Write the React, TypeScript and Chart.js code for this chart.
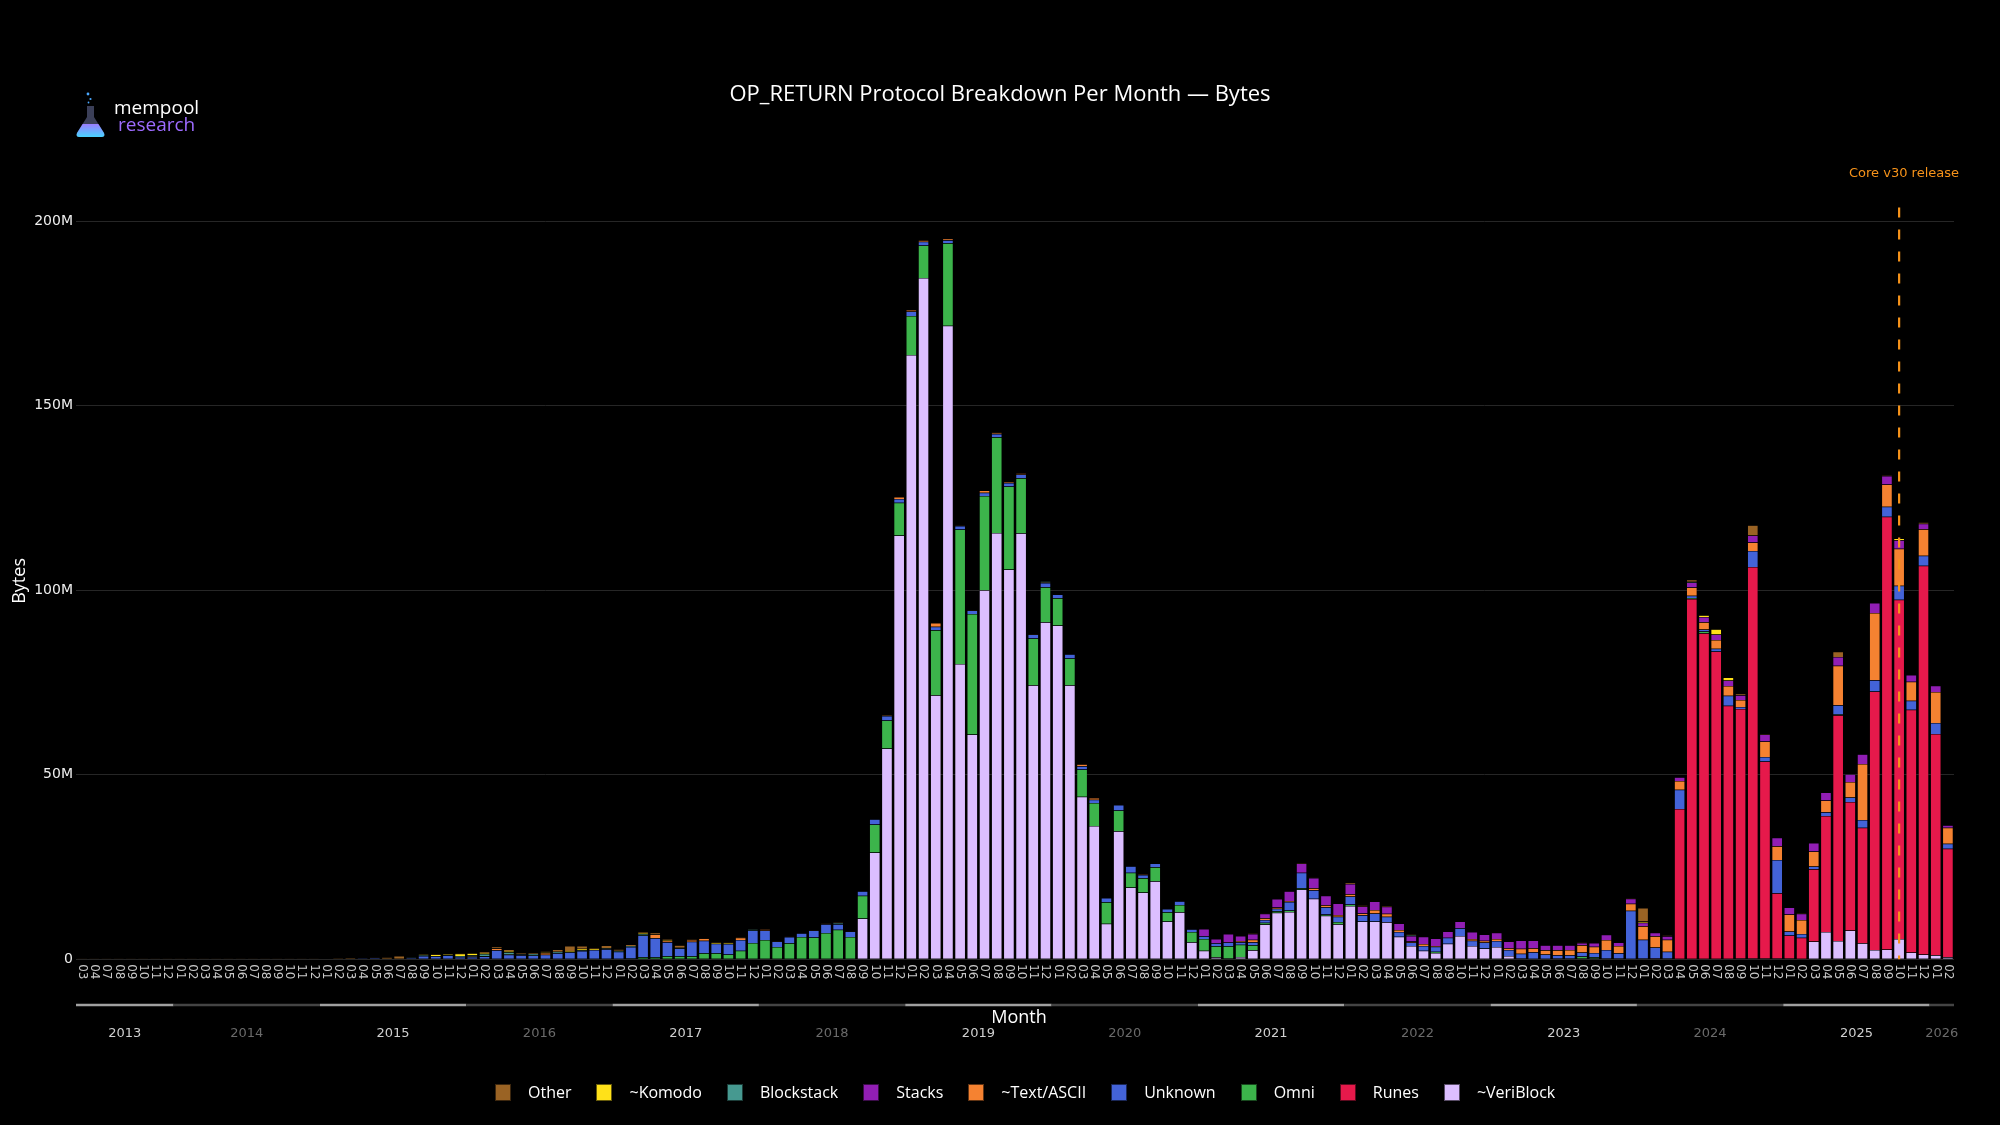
import React, { useEffect, useRef } from 'react';
import { Chart, registerables } from 'chart.js';

Chart.register(...registerables);

// ---------- categories ----------
const M12 = ['01', '02', '03', '04', '05', '06', '07', '08', '09', '10', '11', '12'];
const YEAR_MONTHS: [string, string[]][] = [
  ['2013', ['03', '04', '07', '08', '09', '10', '11', '12']],
  ['2014', M12], ['2015', M12], ['2016', M12], ['2017', M12], ['2018', M12], ['2019', M12],
  ['2020', M12], ['2021', M12], ['2022', M12], ['2023', M12], ['2024', M12], ['2025', M12],
  ['2026', ['01', '02']],
];
const CATEGORIES: string[] = YEAR_MONTHS.flatMap(([y, ms]) => ms.map((m) => `${y}-${m}`));
const RELEASE_MONTH = '2025-10';
const RELEASE_LABEL = 'Core v30 release';

// ---------- series values (millions of bytes) ----------
const veriblock = [
  0, 0, 0, 0, 0, 0, 0, 0, 0, 0,
  0, 0, 0, 0, 0, 0, 0, 0, 0, 0,
  0, 0, 0, 0, 0, 0, 0, 0, 0, 0,
  0, 0, 0, 0, 0, 0, 0, 0, 0, 0,
  0, 0, 0, 0, 0, 0, 0, 0, 0, 0,
  0, 0, 0, 0, 0, 0, 0, 0, 0, 0,
  0, 0, 0, 0, 11.0, 28.9, 57.1, 114.8, 163.7, 184.6,
  71.5, 171.6, 80.0, 60.9, 100.0, 115.5, 105.6, 115.4, 74.2, 91.3,
  90.4, 74.2, 44.0, 36.1, 9.6, 34.7, 19.4, 18.1, 21.1, 10.2,
  12.7, 4.6, 2.3, 0.5, 0.2, 0.6, 2.4, 9.4, 12.6, 12.8,
  18.9, 16.4, 11.8, 9.5, 14.4, 10.2, 10.2, 10.0, 6.1, 3.6,
  2.3, 1.7, 4.2, 6.3, 3.6, 2.9, 3.3, 0.9, 0.2, 0.1,
  0.1, 0.2, 0.2, 0.2, 0.2, 0.2, 0.2, 0, 0.2, 0,
  0.2, 0, 0, 0, 0, 0, 0.2, 0.2, 0.2, 0.2,
  0.2, 0.1, 4.8, 7.4, 4.9, 7.8, 4.3, 2.5, 2.6, 5.5,
  1.8, 1.3, 1.1, 0.5,
];
const runes = [
  0, 0, 0, 0, 0, 0, 0, 0, 0, 0,
  0, 0, 0, 0, 0, 0, 0, 0, 0, 0,
  0, 0, 0, 0, 0, 0, 0, 0, 0, 0,
  0, 0, 0, 0, 0, 0, 0, 0, 0, 0,
  0, 0, 0, 0, 0, 0, 0, 0, 0, 0,
  0, 0, 0, 0, 0, 0, 0, 0, 0, 0,
  0, 0, 0, 0, 0, 0, 0, 0, 0, 0,
  0, 0, 0, 0, 0, 0, 0, 0, 0, 0,
  0, 0, 0, 0, 0, 0, 0, 0, 0, 0,
  0, 0, 0, 0, 0, 0, 0, 0, 0, 0,
  0, 0, 0, 0, 0, 0, 0, 0, 0, 0,
  0, 0, 0, 0, 0, 0, 0, 0, 0, 0,
  0, 0, 0, 0, 0, 0, 0, 0, 0, 0.2,
  0, 40.7, 97.6, 88.3, 83.4, 68.7, 67.6, 106.1, 53.4, 17.7,
  6.2, 5.7, 19.6, 31.4, 61.2, 34.8, 31.3, 70.0, 117.3, 91.9,
  65.8, 105.3, 59.9, 29.4,
];
const omni = [
  0, 0, 0, 0, 0, 0, 0, 0, 0, 0,
  0, 0, 0, 0, 0, 0, 0, 0, 0, 0,
  0, 0, 0, 0, 0, 0, 0, 0, 0, 0,
  0, 0, 0, 0, 0, 0.1, 0, 0, 0, 0,
  0, 0, 0, 0.1, 0, 0.2, 0.5, 0.5, 0.8, 0.8,
  0.8, 1.6, 1.6, 1.3, 2.3, 4.4, 5.2, 3.3, 4.3, 6.0,
  5.9, 7.1, 8.0, 6.0, 6.2, 7.6, 7.6, 8.9, 10.6, 8.8,
  17.6, 22.4, 36.4, 32.6, 25.5, 25.9, 22.5, 14.9, 12.7, 9.5,
  7.4, 7.3, 7.4, 6.2, 5.8, 5.6, 4.0, 3.8, 3.8, 2.5,
  2.0, 2.8, 3.2, 3.0, 3.3, 3.3, 1.4, 0.5, 0.4, 0.4,
  0.3, 0, 0.3, 0.6, 0.4, 0, 0, 0, 0, 0,
  0, 0.3, 0, 0, 0, 0, 0, 0, 0, 0,
  0, 0, 0, 0.5, 0.3, 0, 0, 0.1, 0, 0,
  0, 0, 0.3, 0.5, 0, 0, 0, 0, 0, 0,
  0, 0, 0, 0, 0.2, 0, 0, 0, 0, 0,
  0, 0, 0, 0,
];
const unknown = [
  0, 0, 0, 0, 0, 0, 0, 0, 0, 0,
  0, 0, 0, 0, 0, 0, 0, 0, 0, 0,
  0, 0, 0, 0.3, 0.35, 0.1, 0.1, 0.4, 0.9, 0.8,
  1.0, 0.6, 0.6, 0.7, 2.4, 1.1, 1.1, 1.0, 1.2, 1.6,
  1.9, 2.2, 2.5, 2.6, 2.0, 3.1, 5.9, 5.2, 3.8, 2.1,
  3.9, 3.4, 2.6, 2.8, 2.9, 3.4, 2.6, 1.5, 1.7, 1.0,
  1.9, 2.4, 1.5, 1.5, 1.2, 1.4, 1.2, 1.0, 1.2, 1.0,
  1.0, 0.8, 1.0, 1.0, 0.9, 0.9, 0.9, 1.0, 1.1, 1.1,
  1.0, 1.1, 0.9, 0.9, 1.2, 1.5, 1.8, 0.9, 1.0, 0.9,
  1.0, 0.7, 0.7, 0.8, 1.0, 0.7, 0.8, 0.7, 0.7, 2.3,
  4.2, 2.3, 2.0, 1.4, 2.2, 1.7, 2.2, 1.5, 1.3, 0.9,
  1.3, 1.4, 1.6, 2.1, 1.4, 1.6, 1.6, 1.6, 1.3, 1.8,
  1.2, 0.9, 0.9, 1.1, 1.2, 2.3, 1.4, 13.0, 5.1, 3.0,
  1.8, 5.2, 0.6, 0.5, 0.7, 2.7, 0.5, 4.3, 1.2, 9.0,
  1.1, 1.0, 0.7, 1.0, 2.5, 1.2, 2.1, 3.1, 2.7, 3.8,
  2.4, 2.7, 3.0, 1.4,
];
const textAscii = [
  0, 0, 0, 0, 0, 0, 0, 0, 0, 0,
  0, 0, 0, 0, 0, 0, 0, 0, 0, 0,
  0, 0, 0, 0, 0, 0, 0, 0, 0, 0,
  0, 0, 0.1, 0.1, 0.5, 0.1, 0.1, 0, 0.5, 0,
  0, 0, 0, 0, 0, 0, 0, 1.0, 0.4, 0,
  0.5, 0.6, 0, 0, 0.6, 0, 0.3, 0, 0, 0,
  0, 0, 0, 0, 0, 0, 0, 0.5, 0.4, 0.4,
  1.0, 0.4, 0, 0, 0.6, 0.3, 0.3, 0.4, 0, 0.2,
  0, 0, 0.5, 0.5, 0, 0, 0, 0.2, 0, 0,
  0, 0, 0, 0, 0, 0.3, 0.7, 0.5, 0.3, 0.3,
  0, 0.5, 0.5, 0.5, 0.6, 0.5, 0.9, 0.8, 0.5, 0.3,
  0.5, 0.2, 0, 0, 0.5, 0.5, 0.6, 0.5, 1.3, 1.1,
  1.1, 1.3, 1.4, 2.0, 1.7, 2.7, 2.0, 1.9, 3.6, 3.0,
  3.3, 2.4, 2.2, 2.0, 2.4, 2.6, 1.9, 2.3, 4.2, 3.7,
  4.6, 3.8, 4.1, 3.2, 10.7, 4.2, 15.2, 18.2, 6.0, 10.0,
  5.2, 7.2, 8.4, 4.3,
];
const stacks = [
  0, 0, 0, 0, 0, 0, 0, 0, 0, 0,
  0, 0, 0, 0, 0, 0, 0, 0, 0, 0,
  0, 0, 0, 0, 0, 0, 0, 0, 0, 0,
  0, 0, 0, 0, 0, 0, 0, 0, 0, 0,
  0, 0, 0, 0, 0, 0, 0, 0, 0, 0,
  0, 0, 0, 0, 0, 0, 0, 0, 0, 0,
  0, 0, 0, 0, 0, 0, 0, 0, 0, 0,
  0, 0, 0, 0, 0, 0, 0, 0, 0, 0,
  0, 0, 0, 0, 0, 0, 0, 0, 0, 0,
  0, 0, 2.0, 1.2, 2.3, 1.4, 1.5, 1.2, 2.3, 2.6,
  2.5, 2.8, 2.6, 3.1, 2.8, 1.9, 2.3, 1.9, 1.8, 1.5,
  2.0, 2.0, 1.7, 1.8, 1.9, 1.7, 1.7, 1.8, 2.3, 2.1,
  1.4, 1.4, 1.3, 0.6, 1.0, 1.4, 0.9, 1.4, 1.0, 1.0,
  0.9, 1.0, 1.4, 1.4, 1.5, 1.5, 1.3, 1.9, 1.9, 2.3,
  1.9, 1.7, 2.3, 2.2, 2.4, 2.1, 2.6, 2.7, 2.3, 2.3,
  1.8, 1.5, 1.7, 0.7,
];
const blockstack = [
  0, 0, 0, 0, 0, 0, 0, 0, 0, 0,
  0, 0, 0, 0, 0, 0, 0, 0, 0, 0,
  0, 0, 0, 0, 0, 0, 0, 0.1, 0.2, 0.1,
  0.15, 0.3, 0.4, 0.6, 0.1, 0.6, 0.2, 0.5, 0, 0.4,
  0, 0.2, 0, 0.3, 0.3, 0.3, 0.4, 0, 0, 0.2,
  0, 0, 0, 0, 0, 0.3, 0, 0, 0, 0,
  0, 0, 0.3, 0, 0, 0, 0, 0, 0, 0,
  0, 0, 0, 0, 0, 0, 0, 0, 0, 0.3,
  0, 0, 0, 0, 0, 0, 0, 0, 0, 0,
  0, 0, 0, 0, 0, 0, 0, 0, 0, 0,
  0, 0, 0, 0, 0, 0, 0, 0, 0, 0.2,
  0, 0, 0, 0, 0, 0, 0, 0, 0, 0,
  0, 0, 0, 0, 0, 0, 0, 0, 0, 0,
  0, 0, 0.2, 0, 0, 0, 0, 0, 0, 0,
  0, 0, 0, 0, 0, 0, 0, 0, 0, 0,
  0, 0, 0, 0,
];
const komodo = [
  0, 0, 0, 0, 0, 0, 0, 0, 0, 0,
  0, 0, 0, 0, 0, 0, 0, 0, 0, 0,
  0, 0, 0, 0, 0, 0, 0, 0, 0.15, 0.4,
  0.2, 0.6, 0.5, 0.3, 0, 0.3, 0, 0, 0.15, 0,
  0.3, 0.4, 0.3, 0, 0, 0, 0.3, 0, 0.3, 0,
  0, 0, 0.3, 0.3, 0, 0, 0, 0, 0, 0,
  0, 0, 0, 0, 0, 0, 0, 0, 0, 0,
  0, 0, 0, 0, 0, 0, 0, 0, 0, 0,
  0, 0, 0, 0, 0, 0, 0, 0, 0, 0,
  0, 0, 0, 0, 0, 0, 0, 0, 0, 0,
  0, 0, 0, 0, 0, 0, 0, 0, 0, 0.15,
  0, 0, 0, 0, 0, 0, 0, 0, 0, 0,
  0, 0, 0, 0, 0, 0, 0, 0, 0.3, 0,
  0, 0, 0, 0.5, 1.4, 0.8, 0, 0, 0, 0,
  0, 0, 0, 0, 0, 0, 0, 0, 0, 0.5,
  0, 0, 0, 0,
];
const other = [
  0.01, 0.01, 0.01, 0.01, 0.02, 0.02, 0.01, 0.02, 0.02, 0.02,
  0.02, 0.03, 0.02, 0.02, 0.03, 0.02, 0.03, 0.03, 0.04, 0.04,
  0.05, 0.3, 0.35, 0.1, 0.05, 0.45, 0.8, 0, 0.25, 0.2,
  0.15, 0.1, 0.05, 0.3, 0.4, 0.4, 0.3, 0.3, 0.3, 0.6,
  1.4, 0.8, 0.3, 0.7, 0.4, 0.4, 0.3, 0.5, 0.2, 0.7,
  0.2, 0.1, 0.3, 0.1, 0.2, 0.1, 0.2, 0.1, 0.1, 0.1,
  0.1, 0.2, 0.2, 0.1, 0, 0.1, 0.2, 0, 0, 0,
  0, 0, 0.1, 0.1, 0, 0.1, 0, 0, 0.1, 0,
  0, 0, 0, 0, 0, 0, 0, 0, 0, 0,
  0, 0, 0, 0, 0, 0, 0.2, 0.1, 0, 0,
  0.3, 0.1, 0, 0, 0.3, 0.3, 0, 0.3, 0, 0.15,
  0, 0, 0, 0, 0, 0, 0, 0, 0, 0,
  0, 0, 0, 0.1, 0, 0, 0, 0.1, 3.7, 0,
  0.3, 0, 0.5, 0, 0, 0, 0.4, 2.8, 0.2, 0,
  0, 0.2, 0, 0, 1.4, 0, 0, 0, 0.2, 0,
  0, 0.4, 0, 0,
];

// stacking order: first = bottom
const SERIES: { name: string; color: string; values: number[] }[] = [
  { name: '~VeriBlock', color: '#dcbeff', values: veriblock },
  { name: 'Runes', color: '#e6194b', values: runes },
  { name: 'Omni', color: '#3cb44b', values: omni },
  { name: 'Unknown', color: '#4363d8', values: unknown },
  { name: '~Text/ASCII', color: '#f58231', values: textAscii },
  { name: 'Stacks', color: '#911eb4', values: stacks },
  { name: 'Blockstack', color: '#469990', values: blockstack },
  { name: '~Komodo', color: '#ffe119', values: komodo },
  { name: 'Other', color: '#9a6324', values: other },
];

const Y_TICKS_STEP = 50;
const Y_MAX = 205;

const decorPlugin = {
  id: 'decor',
  afterDatasetsDraw(chart: any) {
    const { ctx, chartArea, scales } = chart;
    const xs = scales.x;
    const idx = CATEGORIES.indexOf(RELEASE_MONTH);
    const x = xs.getPixelForValue(idx);
    ctx.save();
    ctx.strokeStyle = '#f7931a';
    ctx.lineWidth = 2.2;
    ctx.setLineDash([10, 12]);
    ctx.beginPath();
    ctx.moveTo(x, chartArea.top + 5);
    ctx.lineTo(x, chartArea.bottom);
    ctx.stroke();
    ctx.setLineDash([]);
    ctx.fillStyle = '#f7931a';
    ctx.font = '13px "DejaVu Sans"';
    ctx.textAlign = 'right';
    ctx.textBaseline = 'middle';
    ctx.fillText(RELEASE_LABEL, chartArea.right + 5, 174);
    ctx.restore();
  },
  afterDraw(chart: any) {
    const { ctx, chartArea, scales } = chart;
    const xs = scales.x;
    const half = (xs.getPixelForValue(1) - xs.getPixelForValue(0)) / 2;
    ctx.save();
    // month tick labels, rotated clockwise
    ctx.font = '12px "DejaVu Sans"';
    ctx.fillStyle = '#c8c8c8';
    ctx.textAlign = 'left';
    ctx.textBaseline = 'middle';
    CATEGORIES.forEach((c, i) => {
      const px = xs.getPixelForValue(i);
      ctx.save();
      ctx.translate(px, chartArea.bottom + 5);
      ctx.rotate(Math.PI / 2);
      ctx.fillText(c.slice(5), 0, 0);
      ctx.restore();
    });
    // year bands
    let start = 0;
    YEAR_MONTHS.forEach(([year, ms], k) => {
      const first = start;
      const last = start + ms.length - 1;
      start += ms.length;
      const x0 = xs.getPixelForValue(first) - half;
      const x1 = xs.getPixelForValue(last) + half;
      const odd = k % 2 === 0;
      ctx.strokeStyle = odd ? '#a0a0a0' : '#444444';
      ctx.lineWidth = 2.5;
      ctx.beginPath();
      ctx.moveTo(x0, 1005);
      ctx.lineTo(x1, 1005);
      ctx.stroke();
      ctx.fillStyle = odd ? '#cfcfcf' : '#6a6a6a';
      ctx.font = '13px "DejaVu Sans"';
      ctx.textAlign = 'center';
      ctx.textBaseline = 'middle';
      ctx.fillText(year, (x0 + x1) / 2, 1034);
    });
    // axis titles
    ctx.fillStyle = '#ffffff';
    ctx.font = '18px "Open Sans"';
    ctx.textAlign = 'center';
    ctx.textBaseline = 'middle';
    ctx.fillText('Month', (chartArea.left + chartArea.right) / 2 + 4, 1018);
    ctx.save();
    ctx.translate(20, (chartArea.top + chartArea.bottom) / 2);
    ctx.rotate(-Math.PI / 2);
    ctx.fillText('Bytes', 0, 0);
    ctx.restore();
    ctx.restore();
  },
};

function Flask() {
  return (
    <svg width="34" height="48" viewBox="0 0 34 48" style={{ position: 'absolute', left: 74, top: 91 }}>
      <defs>
        <linearGradient id="flaskGrad" x1="0" y1="0" x2="0" y2="1">
          <stop offset="0" stopColor="#9a7dff" />
          <stop offset="1" stopColor="#48d4ff" />
        </linearGradient>
      </defs>
      <circle cx="14" cy="3" r="1.4" fill="#4aa8ff" />
      <circle cx="16.5" cy="8" r="1.1" fill="#4aa8ff" />
      <circle cx="14.5" cy="11.5" r="0.9" fill="#4aa8ff" />
      <path d="M13 15 H20 V26 L30 42 Q31.5 46 27.5 46 H5.5 Q1.5 46 3 42 L13 26 Z" fill="#3b3f58" />
      <path d="M8.6 33 H24.4 L30 42 Q31.5 46 27.5 46 H5.5 Q1.5 46 3 42 Z" fill="url(#flaskGrad)" />
    </svg>
  );
}

export default function App() {
  const canvasRef = useRef<HTMLCanvasElement | null>(null);

  useEffect(() => {
    const canvas = canvasRef.current;
    if (!canvas) return;
    const chart = new Chart(canvas, {
      type: 'bar',
      data: {
        labels: CATEGORIES,
        datasets: SERIES.map((s) => ({
          label: s.name,
          data: s.values,
          backgroundColor: s.color,
          borderColor: 'rgba(0,0,0,0.55)',
          borderWidth: 0.5,
          barPercentage: 0.875,
          categoryPercentage: 1,
        })),
      },
      options: {
        responsive: false,
        animation: false,
        devicePixelRatio: 1,
        layout: { padding: { left: 0, right: 46, top: 202.6, bottom: 165.8 } },
        plugins: {
          legend: { display: false },
          tooltip: { enabled: false },
          title: { display: false },
        },
        scales: {
          x: {
            type: 'category',
            stacked: true,
            display: false,
            offset: true,
          },
          y: {
            stacked: true,
            min: 0,
            max: Y_MAX,
            afterFit: (scale: any) => {
              scale.width = 76;
            },
            afterBuildTicks: (scale: any) => {
              scale.ticks = scale.ticks.filter((t: any) => t.value % Y_TICKS_STEP === 0);
            },
            border: { display: false },
            grid: { color: '#262626', lineWidth: 1, drawTicks: false },
            ticks: {
              stepSize: Y_TICKS_STEP,
              color: '#eeeeee',
              padding: 3,
              font: { family: '"DejaVu Sans"', size: 14 },
              callback: (v: any) => (v === 0 ? '0' : `${v}M`),
            },
          },
        },
      },
      plugins: [decorPlugin],
    } as any);
    return () => chart.destroy();
  }, []);

  const legendItems = [...SERIES].reverse();

  return (
    <div style={{ position: 'fixed', left: 0, top: 0, width: 2000, height: 1125, background: '#000', overflow: 'hidden' }}>
      <canvas ref={canvasRef} width={2000} height={1125} style={{ position: 'absolute', left: 0, top: 0, width: 2000, height: 1125 }} />
      <div
        style={{
          position: 'absolute', left: 0, top: 78, width: 2000, textAlign: 'center',
          color: '#fff', fontFamily: '"Open Sans"', fontSize: 22, lineHeight: '28px',
        }}
      >
        OP_RETURN Protocol Breakdown Per Month — Bytes
      </div>
      <Flask />
      <div style={{ position: 'absolute', left: 114, top: 99, fontFamily: '"Open Sans"', fontSize: 19, lineHeight: '17px' }}>
        <div style={{ color: '#fff' }}>mempool</div>
        <div style={{ color: '#9d6bff', marginLeft: 4 }}>research</div>
      </div>
      <div
        style={{
          position: 'absolute', left: 495, top: 1081, display: 'flex', alignItems: 'center',
          fontFamily: '"Open Sans"', fontSize: 16, color: '#fff', whiteSpace: 'nowrap',
        }}
      >
        {legendItems.map((s, k) => (
          <div key={s.name} style={{ display: 'flex', alignItems: 'center', marginRight: k === legendItems.length - 1 ? 0 : 25 }}>
            <span style={{ display: 'inline-block', width: 14, height: 15, background: s.color, border: '0.5px solid rgba(0,0,0,0.6)', marginRight: 17 }} />
            <span style={{ lineHeight: '22px' }}>{s.name}</span>
          </div>
        ))}
      </div>
    </div>
  );
}
